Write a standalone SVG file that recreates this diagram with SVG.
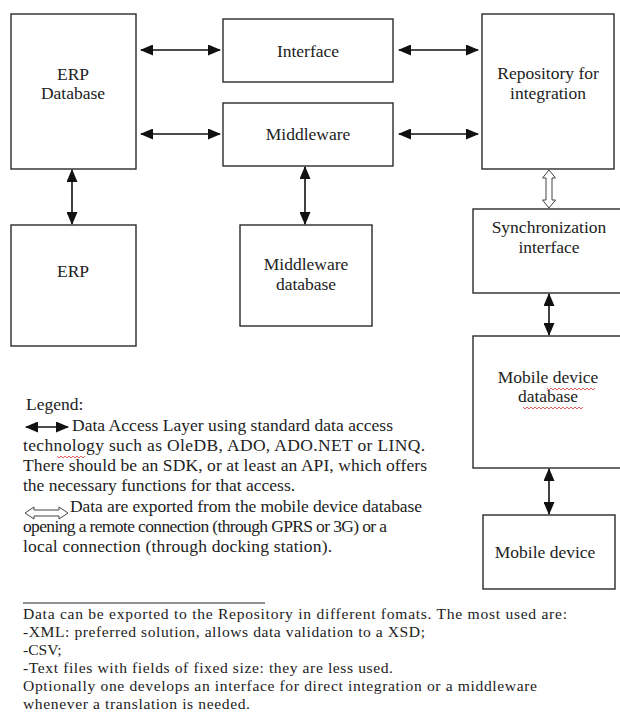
<svg xmlns="http://www.w3.org/2000/svg" width="620" height="725" viewBox="0 0 620 725">
<defs>
<style>
.box{fill:#fff;stroke:#2a2a2a;stroke-width:1.4}
.lbl{font-size:17.5px;fill:#222;text-anchor:middle}
.leg{font-size:17.5px;fill:#222}
.note{font-size:15.6px;fill:#222}
.con{stroke:#111;stroke-width:1.6;fill:none;marker-start:url(#ah);marker-end:url(#ah)}
.hollow{fill:#fff;stroke:#444;stroke-width:1}
.sq{fill:none;stroke:#d33;stroke-width:0.8}
</style>
<marker id="ah" markerUnits="userSpaceOnUse" markerWidth="13" markerHeight="11" refX="12" refY="5.5" orient="auto-start-reverse" viewBox="0 0 13 11">
<path d="M0,0 L13,5.5 L0,11 Z" fill="#111"/>
</marker>
</defs>
<rect width="620" height="725" fill="#fff"/>
<g font-family="'Liberation Serif', 'DejaVu Serif', serif">
<g id="erp-database"><rect class="box" x="11" y="14" width="125" height="155"/><text class="lbl" x="73" y="80">ERP</text><text class="lbl" x="73" y="99">Database</text></g>
<g id="interface"><rect class="box" x="223" y="19" width="170" height="63"/><text class="lbl" x="308" y="57">Interface</text></g>
<g id="middleware"><rect class="box" x="223" y="103" width="170" height="63"/><text class="lbl" x="308" y="140">Middleware</text></g>
<g id="repository"><rect class="box" x="482" y="14" width="132" height="155"/><text class="lbl" x="548" y="79">Repository for</text><text class="lbl" x="548" y="99">integration</text></g>
<g id="erp"><rect class="box" x="11" y="225" width="125" height="121"/><text class="lbl" x="73" y="277">ERP</text></g>
<g id="middleware-database"><rect class="box" x="240" y="225" width="132" height="101"/><text class="lbl" x="306" y="270">Middleware</text><text class="lbl" x="306" y="290">database</text></g>
<g id="sync-interface"><rect class="box" x="473" y="209" width="160" height="84"/><text class="lbl" x="549" y="233">Synchronization</text><text class="lbl" x="549" y="253">interface</text></g>
<g id="mobile-db"><rect class="box" x="473" y="336" width="160" height="132"/><text class="lbl" x="548" y="383">Mobile device</text><text class="lbl" x="548" y="402">database</text>
<path class="sq" d="M547,388 l2,2 l2,-2 l2,2 l2,-2 l2,2 l2,-2 l2,2 l2,-2 l2,2 l2,-2 l2,2 l2,-2 l2,2 l2,-2 l2,2 l2,-2 l2,2 l2,-2 l2,2 l2,-2 l2,2 l2,-2 l2,2 l2,-2"/>
<path class="sq" d="M523,407 l2,2 l2,-2 l2,2 l2,-2 l2,2 l2,-2 l2,2 l2,-2 l2,2 l2,-2 l2,2 l2,-2 l2,2 l2,-2 l2,2 l2,-2 l2,2 l2,-2 l2,2 l2,-2 l2,2 l2,-2 l2,2 l2,-2 l2,2 l2,-2 l2,2 l2,-2 l2,2 l2,-2"/></g>
<g id="mobile-device"><rect class="box" x="483" y="515" width="132" height="74"/><text class="lbl" x="545" y="558">Mobile device</text></g>

<g id="connectors">
<line class="con" x1="141" y1="50" x2="220" y2="50"/>
<line class="con" x1="141" y1="134" x2="220" y2="134"/>
<line class="con" x1="399" y1="50" x2="478" y2="50"/>
<line class="con" x1="399" y1="134" x2="478" y2="134"/>
<line class="con" x1="72" y1="170" x2="72" y2="224"/>
<line class="con" x1="305" y1="167" x2="305" y2="224"/>
<line class="con" x1="549" y1="294" x2="549" y2="335"/>
<line class="con" x1="549" y1="469" x2="549" y2="514"/>
<path class="hollow" d="M549,170 L555.5,178 L552,178 L552,200 L555.5,200 L549,208 L542.5,200 L546,200 L546,178 L542.5,178 Z"/>
</g>

<g id="legend">
<text class="leg" x="26" y="410">Legend:</text>
<line class="con" x1="26" y1="427" x2="68" y2="427"/>
<text class="leg" x="72" y="431" textLength="321">Data Access Layer using standard data access</text>
<text class="leg" x="23" y="451" textLength="402">technology such as OleDB, ADO, ADO.NET or LINQ.</text>
<path class="sq" d="M57,456 l2,2 l2,-2 l2,2 l2,-2 l2,2 l2,-2 l2,2 l2,-2 l2,2 l2,-2 l2,2 l2,-2 l2,2 l2,-2"/>
<text class="leg" x="23" y="471" textLength="404">There should be an SDK, or at least an API, which offers</text>
<text class="leg" x="23" y="491">the necessary functions for that access.</text>
<path class="hollow" d="M25,513 L34,507 L34,510 L59,510 L59,507 L68,513 L59,519 L59,516 L34,516 L34,519 Z"/>
<text class="leg" x="70" y="512" textLength="352">Data are exported from the mobile device database</text>
<text class="leg" x="23" y="532" textLength="364">opening a remote connection (through GPRS or 3G) or a</text>
<text class="leg" x="23" y="552" textLength="309">local connection (through docking station).</text>
</g>

<g id="footnote">
<line x1="23" y1="603" x2="265" y2="603" stroke="#222" stroke-width="1"/>
<text class="note" x="23" y="619" textLength="544">Data can be exported to the Repository in different fomats. The most used are:</text>
<text class="note" x="23" y="637" textLength="402">-XML: preferred solution, allows data validation to a XSD;</text>
<text class="note" x="23" y="655">-CSV;</text>
<text class="note" x="23" y="673" textLength="370">-Text files with fields of fixed size: they are less used.</text>
<text class="note" x="23" y="691" textLength="514">Optionally one develops an interface for direct integration or a middleware</text>
<text class="note" x="23" y="709" textLength="227">whenever a translation is needed.</text>
</g>
</g>
</svg>
